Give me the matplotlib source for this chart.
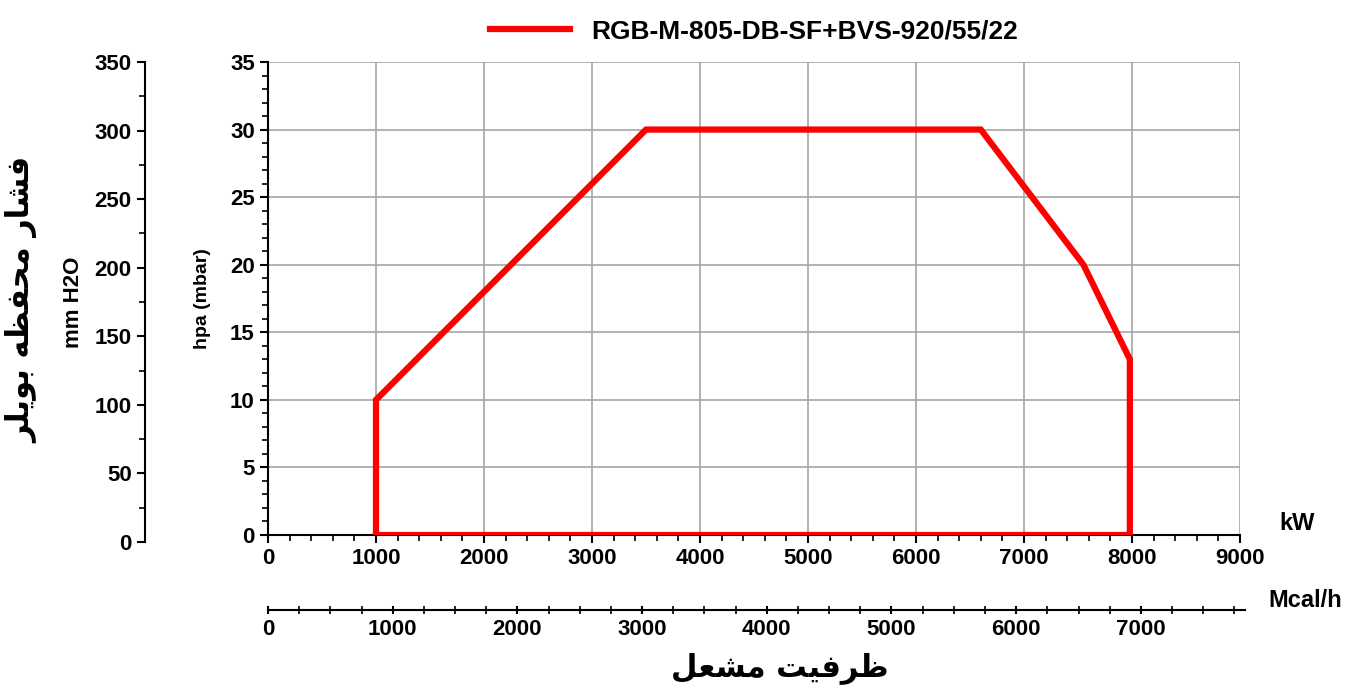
import matplotlib
matplotlib.use("Agg")
import matplotlib.pyplot as plt
from matplotlib.ticker import MultipleLocator

kw = [1000, 1000, 3500, 6600, 7550, 7980, 7980, 1000]
hpa = [0, 10, 30, 30, 20, 13, 0, 0]
series_name = "RGB-M-805-DB-SF+BVS-920/55/22"
title_x = "\uFEDE\uFECC\uFEB8\uFEE3 \uFE96\uFEF4\uFED3\uFEAE\uFEC7"
title_y = "\uFEAE\uFEE0\uFEF3\uFEEE\uFE91 \uFEEA\uFEC8\uFED4\uFEA4\uFEE3 \uFEAD\uFE8E\uFEB8\uFED3"

plt.rcParams['font.family'] = ['Liberation Sans', 'DejaVu Sans']
plt.rcParams['font.weight'] = 'bold'
W, H = 1345, 698
fig = plt.figure(figsize=(W/100, H/100), dpi=100)

ax = fig.add_axes([268/W, 1-535/H, 972/W, 473/H])
ax.plot(kw, hpa, color='#ff0000', lw=4.5, solid_joinstyle='miter', label=series_name, zorder=3)
ax.set_xlim(0, 9000); ax.set_ylim(0, 35)
ax.xaxis.set_major_locator(MultipleLocator(1000)); ax.xaxis.set_minor_locator(MultipleLocator(200))
ax.yaxis.set_major_locator(MultipleLocator(5)); ax.yaxis.set_minor_locator(MultipleLocator(1))
ax.grid(True, which='major', color='#a6a6a6', lw=1.2)
for s in ['top', 'right']:
    ax.spines[s].set_visible(False)
ax.spines['left'].set_linewidth(1.5); ax.spines['bottom'].set_linewidth(1.5)
ax.tick_params(labelsize=16, width=1.5, length=6)
ax.tick_params(which='minor', width=1.2, length=4)
ax.set_ylabel('hpa (mbar)', fontsize=14, fontweight='bold', labelpad=14)
ax.text(1.04, 0, 'kW', transform=ax.transAxes, fontsize=17, fontweight='bold', va='bottom', ha='left')
ax.legend(loc='lower center', bbox_to_anchor=(0.5, 1.0), frameon=False, fontsize=19,
          handlelength=3, borderaxespad=0.3)

ax2 = fig.add_axes([145/W, 1-542/H, 0.001, 480/H])
ax2.set_ylim(0, 350); ax2.set_xticks([])
ax2.yaxis.set_major_locator(MultipleLocator(50)); ax2.yaxis.set_minor_locator(MultipleLocator(25))
for s in ['top', 'right', 'bottom']:
    ax2.spines[s].set_visible(False)
ax2.spines['left'].set_linewidth(1.5)
ax2.tick_params(labelsize=16, width=1.5, length=6)
ax2.tick_params(which='minor', width=1.2, length=4)
ax2.patch.set_visible(False)
ax2.set_ylabel('mm H2O', fontsize=16, fontweight='bold', labelpad=8)
fig.text(22/W, 1-300/H, title_y, rotation=90, fontsize=22, fontweight='bold',
         family=['DejaVu Sans'], ha='center', va='center')

ax3 = fig.add_axes([268/W, 1-610/H, 977/W, 0.001])
ax3.set_xlim(0, 7835); ax3.set_yticks([])
ax3.xaxis.set_major_locator(MultipleLocator(1000)); ax3.xaxis.set_minor_locator(MultipleLocator(250))
for s in ['top', 'right', 'left']:
    ax3.spines[s].set_visible(False)
ax3.spines['bottom'].set_linewidth(1.5)
ax3.tick_params(labelsize=16, width=1.5, length=6, direction='inout')
ax3.tick_params(which='minor', width=1.2, length=6, direction='inout')
ax3.patch.set_visible(False)
fig.text(1305/W, 1-612/H, 'Mcal/h', fontsize=17, fontweight='bold', ha='center', va='bottom')
fig.text(780/W, 1-668/H, title_x, fontsize=22, fontweight='bold', family=['DejaVu Sans'],
         ha='center', va='center')

fig.savefig('out.png', dpi=100)
